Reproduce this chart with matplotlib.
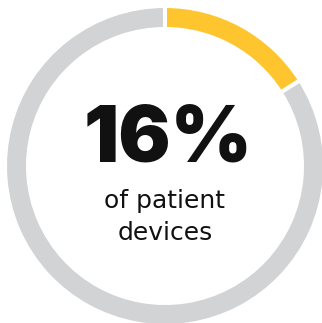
import matplotlib
matplotlib.use('Agg')
from matplotlib import pyplot as plt

# share of devices, and the rest
labels = ['patient devices', 'other']
shares = [16, 84]
colors = ['#ffc52f', '#d1d3d4']

big_text = '16%'
small_text = ['of patient', 'devices']

W, H = 322, 323
fig = plt.figure(figsize=(W / 100, H / 100), dpi=100)
ax = fig.add_axes([0, 0, 1, 1])

cx, cy = 165, H - 166
ax.pie(shares, colors=colors, startangle=90, counterclock=False,
       center=(cx, cy), radius=160,
       wedgeprops=dict(width=23, edgecolor='white', linewidth=2.9))
ax.set_xlim(0, W)
ax.set_ylim(0, H)
ax.axis('off')

ax.text(168, H - 162, big_text, ha='center', va='baseline',
        fontsize=56, fontweight='black', family='Inter', color='#111111')
# two lines, baselines placed separately
for i, line in enumerate(small_text):
    ax.text(165, H - 208 - 32 * i, line, ha='center', va='baseline',
            fontsize=18, family='DejaVu Sans', color='#111111')

fig.savefig('out.png', dpi=100, facecolor='white')
